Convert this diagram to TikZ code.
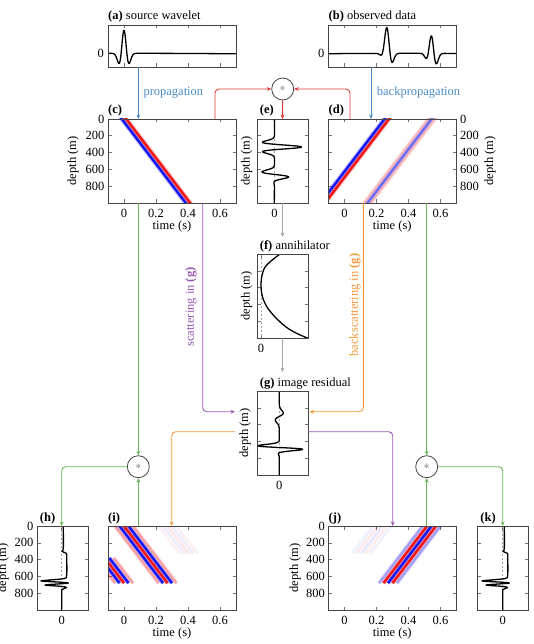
\documentclass[tikz,border=0pt]{standalone}
\usepackage{fontspec}
\setmainfont{Liberation Serif}
\usetikzlibrary{arrows.meta}
\definecolor{pblue}{RGB}{72,138,198}
\definecolor{cred}{RGB}{222,58,58}
\definecolor{cgreen}{RGB}{104,182,86}
\definecolor{cpurple}{RGB}{150,88,178}
\definecolor{corange}{RGB}{242,152,58}
\definecolor{cgray}{RGB}{165,165,165}
\definecolor{wblue}{RGB}{20,20,240}
\definecolor{wred}{RGB}{240,20,20}
\definecolor{frame}{RGB}{70,70,70}
\newcommand\stripe[8]{\draw[#8] ({#1+(#7)+160*((#3)+(#4)*(#5)/2500)},{#2+0.084*(#5)}) -- ({#1+(#7)+160*((#3)+(#4)*(#6)/2500)},{#2+0.084*(#6)});}
\newcommand\band[7]{%
 \foreach \dx/\cc/\op in {#7}{\pgfmathsetmacro\oph{0.15*\op}\stripe{#1}{#2}{#3}{#4}{#5}{#6}{\dx}{draw=\cc,draw opacity=\oph,line width=5pt}}%
 \foreach \dx/\cc/\op in {#7}{\pgfmathsetmacro\oph{0.35*\op}\stripe{#1}{#2}{#3}{#4}{#5}{#6}{\dx}{draw=\cc,draw opacity=\oph,line width=3.6pt}}%
 \foreach \dx/\cc/\op in {#7}{\stripe{#1}{#2}{#3}{#4}{#5}{#6}{\dx}{draw=\cc,draw opacity=\op,line width=2.2pt}}%
}
\newcommand\tticks[3]{\foreach \tv in {0,0.2,0.4,0.6}{\draw[tick] ({#1+160*\tv},#2) -- ++(0,3.5); \draw[tick] ({#1+160*\tv},#3) -- ++(0,-3.5);}}
\newcommand\dticks[3]{\foreach \z in {200,400,600,800}{\draw[tick] (#1,{#3+0.084*\z}) -- ++(3.5,0); \draw[tick] (#2,{#3+0.084*\z}) -- ++(-3.5,0);}}
\newcommand\zticks[3]{\draw[tick] (#1,#2) -- ++(0,3.5); \draw[tick] (#1,#3) -- ++(0,-3.5);}
\begin{document}
\begin{tikzpicture}[x=1pt,y=-1pt,
  font=\fontsize{12.5}{15}\selectfont,
  declare function={rk(\u)=(1-2*(\u)*(\u))*exp(-(\u)*(\u)); ev(\u)=2.33*(\u)*exp(-(\u)*(\u)); gs(\u)=exp(-(\u)*(\u));},
  panel/.style={draw=frame,line width=0.8pt,inner sep=0pt,outer sep=0pt},
  tick/.style={draw=black!55,line width=0.6pt},
  trace/.style={draw=black,line width=1.3pt,line join=round},
  zero/.style={draw=cgray,line width=0.5pt,dash pattern=on 2pt off 2pt},
  conn/.style={line width=0.9pt,-{Stealth[length=4.5pt,width=3.8pt]},rounded corners=4pt},
  plab/.style={anchor=base west,inner sep=0pt},
  tlab/.style={anchor=north,inner sep=0pt},
  alab/.style={anchor=base,inner sep=0pt},
  dlab/.style={rotate=90,inner sep=0pt},
  convn/.style={circle,draw=frame,line width=0.8pt,minimum size=22pt,inner sep=0pt,text=black!60}]
\useasboundingbox (0,0) rectangle (534,644);

% ---------- (a) source wavelet
\tticks{124}{25}{67}
\draw[tick] (108,53.3) -- ++(3.5,0); \draw[tick] (236,53.3) -- ++(-3.5,0);
\begin{scope}\clip (108,25) rectangle (236,67);
\draw[trace] plot[domain=-0.1:0.7,samples=300,variable=\s] ({124+160*\s},{53.3-23*rk(39.3*\s)});
\end{scope}
% ---------- (b) observed data
\tticks{344.5}{25}{67}
\draw[tick] (328.5,53.3) -- ++(3.5,0); \draw[tick] (456,53.3) -- ++(-3.5,0);
\begin{scope}\clip (328.5,25) rectangle (456,67);
\draw[trace] plot[domain=-0.1:0.7,samples=400,variable=\s] ({344.5+160*\s},{53.3-24.5*(0.6*rk(39.3*(\s-0.268))+0.4*gs(39.3*(\s-0.268))-0.3*ev(39.3*(\s-0.268)))-17*(rk(39.3*(\s-0.545))-0.25*ev(39.3*(\s-0.545)))});
\end{scope}
% ---------- (c)
\tticks{124}{119}{203}\dticks{108}{236}{119}
\begin{scope}\clip (108,119) rectangle (236,203);
\band{124}{119}{0}{1}{-60}{1100}{-2.2/wblue/1,2.2/wred/1}
\end{scope}
% ---------- (d)
\tticks{344.5}{119}{203}\dticks{328.5}{456}{119}
\begin{scope}\clip (328.5,119) rectangle (456,203);
\band{344.5}{119}{0.264}{-1}{-60}{1100}{-2.2/wblue/1,2.2/wred/1}
\band{344.5}{119}{0.544}{-1}{-60}{1100}{-3.4/wred/0.2,0/wblue/0.5,3.4/wred/0.2}
\end{scope}
% ---------- (e)
\zticks{274.5}{119}{203}\dticks{257}{308}{119}
\begin{scope}\clip (257,119) rectangle (308,203);
\draw[zero] (274.5,119) -- (274.5,203);
\draw[trace] plot[domain=119:203,samples=300,variable=\yy] ({274.5+27*rk(0.26*(\yy-147))+10.2*(rk(0.26*(\yy-175.7))+ev(0.26*(\yy-175.7)))},{\yy});
\end{scope}
% ---------- (f)
\zticks{261}{254}{338}\dticks{257}{308}{254}
\begin{scope}\clip (257,254) rectangle (308,338);
\draw[zero] (261,254) -- (261,338);
\draw[trace] plot[smooth] coordinates {(280,254) (271,261) (264.5,268) (261.5,278) (261,287) (262.5,297) (267,307) (275,317) (286,327) (297,333.5) (308.5,338.5)};
\end{scope}
% ---------- (g)
\zticks{279.3}{391}{475}\dticks{257}{308}{391}
\begin{scope}\clip (257,391) rectangle (308,475);
\draw[zero] (279.3,391) -- (279.3,475);
\draw[trace] plot[domain=391:475,samples=350,variable=\yy] ({279.3-4*ev(0.2*(\yy-416.5))+20.5*ev(0.4*(\yy-447.6))+3*rk(0.3*(\yy-449))},{\yy});
\end{scope}
% ---------- (h)
\zticks{61.7}{526}{610}\dticks{37}{88}{526}
\begin{scope}\clip (37,526) rectangle (88,610);
\draw[zero] (61.7,526) -- (61.7,610);
\draw[trace] plot[smooth,tension=0.45] coordinates {(63.3,526) (63.3,549) (62,551.3) (66.2,553.3) (66.7,556) (66.7,575) (64,578.6) (41,580.9) (61,582.2) (68,583.2) (45,585) (62,586.4) (66.5,587.5) (62,589.5) (61.7,592) (61.7,610)};
\end{scope}
% ---------- (i)
\tticks{124}{526}{610}\dticks{108}{236}{526}
\begin{scope}\clip (108,526) rectangle (236,610);
\band{124}{526}{0.272}{1}{0}{330}{-9/wred/0.04,-4.5/wblue/0.05,0/wred/0.07,4.5/wblue/0.05,9/wred/0.04}
\band{124}{526}{0}{1}{-60}{680}{-9/wred/0.3,-4.5/wblue/1,0/wred/1,4.5/wblue/1,9/wred/0.3}
\band{124}{526}{-0.272}{1}{380}{680}{-9/wred/0.3,-4.5/wblue/1,0/wred/1,4.5/wblue/1,9/wred/0.3}
\end{scope}
% ---------- (j)
\tticks{344.5}{526}{610}\dticks{328.5}{456}{526}
\begin{scope}\clip (328.5,526) rectangle (456,610);
\band{344.5}{526}{0.236}{-1}{-60}{330}{-9/wblue/0.04,-4.5/wred/0.06,0/wblue/0.07,4.5/wred/0.06,9/wblue/0.04}
\band{344.5}{526}{0.544}{-1}{-60}{680}{-9/wblue/0.3,-4.5/wred/1,0/wblue/1,4.5/wred/1,9/wblue/0.3}
\end{scope}
% ---------- (k)
\zticks{502.7}{526}{610}\dticks{477.5}{528.5}{526}
\begin{scope}\clip (477.5,526) rectangle (528.5,610);
\draw[zero] (502.7,526) -- (502.7,610);
\draw[trace,xshift=441pt] plot[smooth,tension=0.45] coordinates {(63.3,526) (63.3,549) (62,551.3) (66.2,553.3) (66.7,556) (66.7,575) (64,578.6) (41,580.9) (61,582.2) (68,583.2) (45,585) (62,586.4) (66.5,587.5) (62,589.5) (61.7,592) (61.7,610)};
\end{scope}

% ---------- panel frames
\node[panel,minimum width=128pt,minimum height=42pt] (pa) at (172,46) {};
\node[panel,minimum width=127.5pt,minimum height=42pt] (pb) at (392.25,46) {};
\node[panel,minimum width=128pt,minimum height=84pt] (pc) at (172,161) {};
\node[panel,minimum width=51pt,minimum height=84pt] (pe) at (282.5,161) {};
\node[panel,minimum width=127.5pt,minimum height=84pt] (pd) at (392.25,161) {};
\node[panel,minimum width=51pt,minimum height=84pt] (pf) at (282.5,296) {};
\node[panel,minimum width=51pt,minimum height=84pt] (pg) at (282.5,433) {};
\node[panel,minimum width=51pt,minimum height=84pt] (ph) at (62.5,568) {};
\node[panel,minimum width=128pt,minimum height=84pt] (pi) at (172,568) {};
\node[panel,minimum width=127.5pt,minimum height=84pt] (pj) at (392.25,568) {};
\node[panel,minimum width=51pt,minimum height=84pt] (pk) at (503,568) {};

% ---------- panel titles
\node[plab] (la) at ([yshift=5pt]pa.north west) {\textbf{(a)} source wavelet};
\node[plab] (lb) at ([yshift=5pt]pb.north west) {\textbf{(b)} observed data};
\node[plab] (lc) at ([yshift=5pt]pc.north west) {\textbf{(c)}};
\node[plab] (le) at ([xshift=2.7pt,yshift=5pt]pe.north west) {\textbf{(e)}};
\node[plab] (ld) at ([yshift=5pt]pd.north west) {\textbf{(d)}};
\node[plab] (lf) at ([xshift=2.7pt,yshift=5pt]pf.north west) {\textbf{(f)} annihilator};
\node[plab] (lg) at ([xshift=2.7pt,yshift=5pt]pg.north west) {\textbf{(g)} image residual};
\node[plab] (lh) at ([xshift=2.7pt,yshift=5pt]ph.north west) {\textbf{(h)}};
\node[plab] (li) at ([yshift=5pt]pi.north west) {\textbf{(i)}};
\node[plab] (lj) at ([yshift=5pt]pj.north west) {\textbf{(j)}};
\node[plab] (lk) at ([xshift=2.7pt,yshift=5pt]pk.north west) {\textbf{(k)}};

% ---------- tick labels
\node[anchor=east,inner sep=0pt] (ya0) at (104,53.3) {0};
\node[anchor=east,inner sep=0pt] (yb0) at (324.5,53.3) {0};
\foreach \tv [count=\i] in {0,0.2,0.4,0.6}{
  \node[tlab] (ctl\i) at ({124+160*\tv},209) {\tv};
  \node[tlab] (dtl\i) at ({344.5+160*\tv},209) {\tv};
  \node[tlab] (itl\i) at ({124+160*\tv},616) {\tv};
  \node[tlab] (jtl\i) at ({344.5+160*\tv},616) {\tv};}
\foreach \z [count=\i] in {0,200,400,600,800}{
  \node[anchor=east,inner sep=0pt] (czl\i) at (104.5,{119+0.084*\z}) {\z};
  \node[anchor=west,inner sep=0pt] (dzl\i) at (460,{119+0.084*\z}) {\z};
  \node[anchor=east,inner sep=0pt] (hzl\i) at (33.5,{526+0.084*\z}) {\z};
  \node[anchor=east,inner sep=0pt] (jzl\i) at (325,{526+0.084*\z}) {\z};}
\node[tlab] (el0) at (274.5,209) {0};
\node[tlab] (fl0) at (261,344) {0};
\node[tlab] (gl0) at (279.3,481) {0};
\node[tlab] (hl0) at (61.7,616) {0};
\node[tlab] (kl0) at (502.7,616) {0};
% axis titles
\node[alab] (cxt) at (172,229.5) {time (s)};
\node[alab] (dxt) at (392.25,229.5) {time (s)};
\node[alab] (ixt) at (172,636.5) {time (s)};
\node[alab] (jxt) at (392.25,636.5) {time (s)};
\node[dlab] (cyt) at (73,161) {depth (m)};
\node[dlab] (dyt) at (490,161) {depth (m)};
\node[dlab] (eyt) at (246.7,161) {depth (m)};
\node[dlab] (fyt) at (246.7,296) {depth (m)};
\node[dlab] (gyt) at (245,433) {depth (m)};
\node[dlab] (hyt) at (3,568) {depth (m)};
\node[dlab] (jyt) at (295,568) {depth (m)};

% ---------- convolution nodes
\node[convn] (conv1) at (282.7,89) {$*$};
\node[convn] (conv2) at (138.3,466.7) {$*$};
\node[convn] (conv3) at (426.7,466.7) {$*$};

% ---------- helper coordinates
\coordinate (xA) at (138.3,0);
\coordinate (xB) at (371,0);
\coordinate (xRc) at (215,0);
\coordinate (xRd) at (350,0);
\coordinate (xPc) at (202.7,0);
\coordinate (xOd) at (363.3,0);
\coordinate (xG2) at (426.7,0);
\coordinate (xPj) at (392.7,0);
\coordinate (xOi) at (171.7,0);
\coordinate (xH) at (61.7,0);
\coordinate (xK) at (502.7,0);
\coordinate (yS) at (0,411.7);
\coordinate (yB) at (0,431.7);
\coordinate (gW) at (235,0);

% ---------- connectors
\draw[conn,pblue] (pa.south -| xA) -- (pc.north -| xA);
\draw[conn,pblue] (pb.south -| xB) -- (pd.north -| xB);
\node[anchor=base west,inner sep=0pt,text=pblue] (tprop) at (143.3,95.5) {propagation};
\node[anchor=base west,inner sep=0pt,text=pblue] (tbprop) at (376.7,95.5) {backpropagation};
\draw[conn,cred] (pc.north -| xRc) |- (conv1.west);
\draw[conn,cred] (pd.north -| xRd) |- (conv1.east);
\draw[conn,cred] (conv1.south) -- (pe.north);
\draw[conn,cgray,shorten >=3pt] (pe.south) -- (pe.south |- lf.north);
\draw[conn,cgray,shorten >=5pt] (pf.south) -- (pf.south |- lg.north);
\draw[conn,cpurple] (pc.south -| xPc) |- (gW |- yS);
\draw[conn,corange,shorten >=1.5pt] (pd.south -| xOd) |- (pg.east |- yS);
\draw[conn,cpurple] (pg.east |- yB) -| (pj.north -| xPj);
\draw[conn,corange] (gW |- yB) -| (pi.north -| xOi);
\node[rotate=90,inner sep=0pt,text=cpurple] (tscat) at (191,307) {scattering in \textbf{(g)}};
\node[rotate=90,inner sep=0pt,text=corange] (tbscat) at (355,305) {backscattering in \textbf{(g)}};
\draw[conn,cgreen] (pc.south -| xA) -- (conv2.north);
\draw[conn,cgreen] (pi.north -| xA) -- (conv2.south);
\draw[conn,cgreen] (conv2.west) -| (ph.north -| xH);
\draw[conn,cgreen] (pd.south -| xG2) -- (conv3.north);
\draw[conn,cgreen] (pj.north -| xG2) -- (conv3.south);
\draw[conn,cgreen] (conv3.east) -| (pk.north -| xK);
\end{tikzpicture}
\end{document}
